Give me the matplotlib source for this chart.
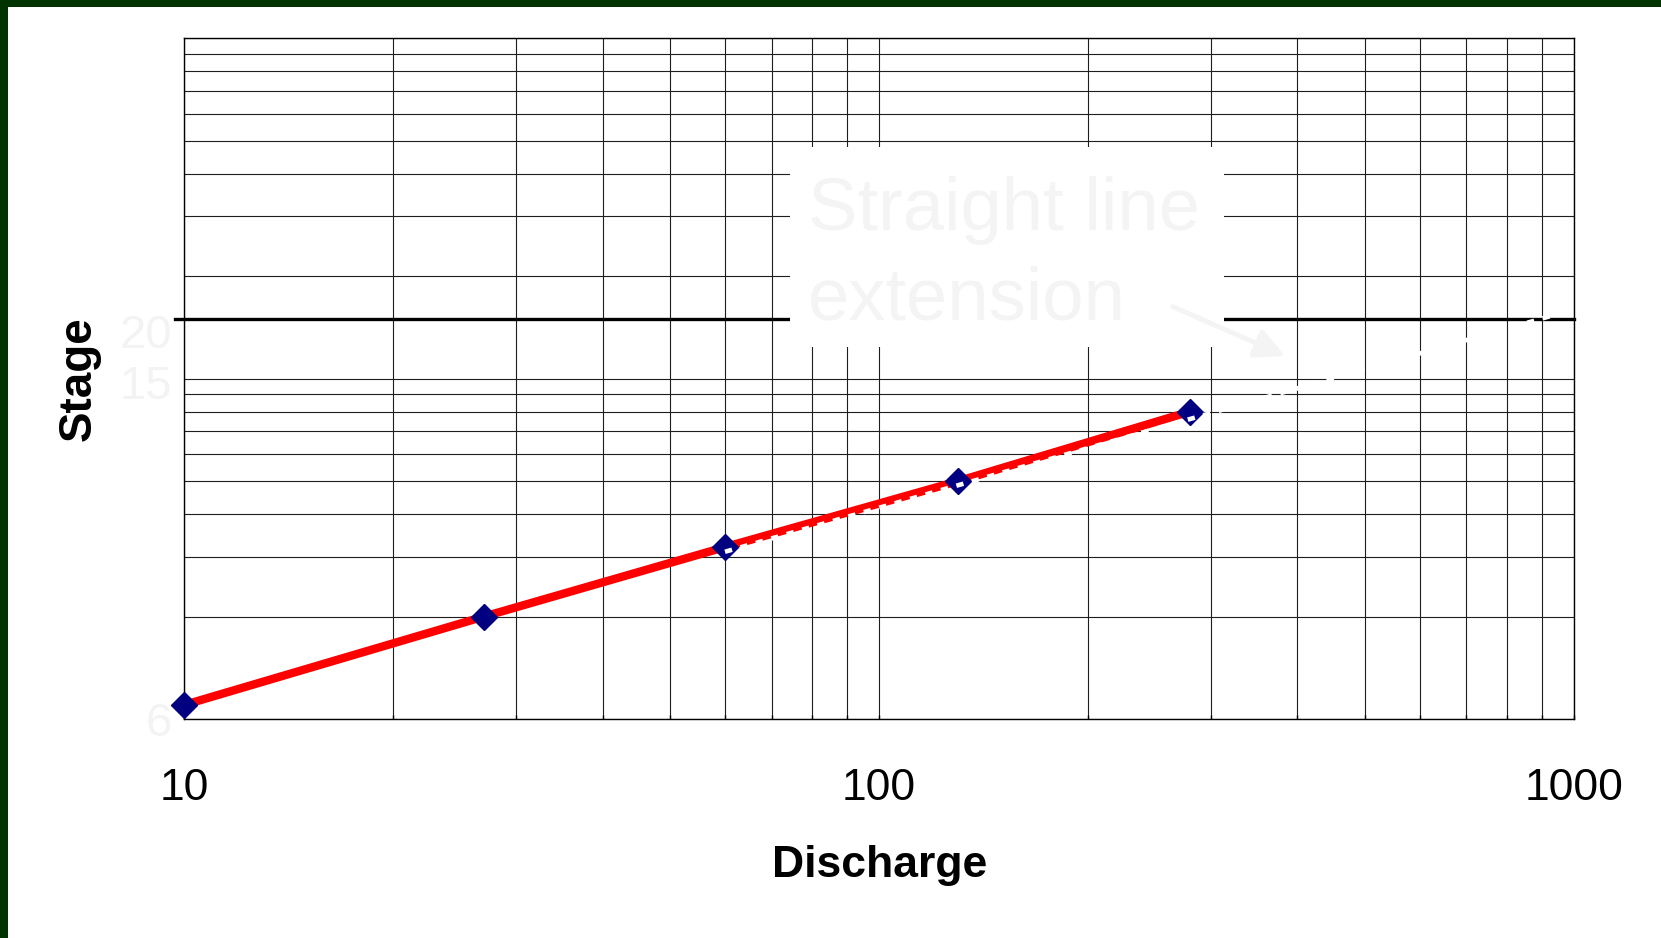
import matplotlib
matplotlib.use('Agg')
import matplotlib.pyplot as plt
from matplotlib.patches import Rectangle
from matplotlib.ticker import FixedLocator, NullFormatter, NullLocator
from matplotlib.transforms import ScaledTranslation

# ---- data ----
discharge = [10, 27, 60, 130, 280]
stage = [1.1, 2.0, 3.2, 5.0, 8.0]
ext_discharge = [60, 960]          # straight-line extension (white dotted)
ext_stage = [3.1, 15.6]
ref_stage = 15                     # heavy horizontal reference line
x_ticks = [10, 100, 1000]
x_tick_labels = ['10', '100', '1000']
x_minor = [20, 30, 40, 50, 60, 70, 80, 90, 200, 300, 400, 500, 600, 700, 800, 900]
y_tick_pos = [1, 10, 15]
y_tick_labels = ['6', '15', '20']
x_grid = [10, 20, 30, 40, 50, 60, 70, 80, 90, 100,
          200, 300, 400, 500, 600, 700, 800, 900, 1000]
y_grid = [1, 2, 3, 4, 5, 6, 7, 8, 9, 10, 20, 30, 40, 50, 60, 70, 80, 90, 100]
annotation_lines = ['Straight line', 'extension']

plt.rcParams['font.family'] = ['Liberation Sans', 'DejaVu Sans']

W, H = 1661, 938
fig = plt.figure(figsize=(W / 100, H / 100), dpi=100)
fig.patch.set_facecolor('white')

# dark green frame (top and left)
fig.add_artist(Rectangle((0, 0), 8 / W, 1, transform=fig.transFigure,
                         facecolor='#003300', edgecolor='none'))
fig.add_artist(Rectangle((0, 1 - 7 / H), 1, 7 / H, transform=fig.transFigure,
                         facecolor='#003300', edgecolor='none'))

ax = fig.add_axes([184.3 / W, (H - 719) / H, (1574 - 184.3) / W, (719 - 38.3) / H])
ax.set_xscale('log')
ax.set_yscale('log')
ax.set_xlim(10, 1000)
ax.set_ylim(1, 100)

# log-paper grid
ax.vlines(x_grid, 1, 100, colors='#1e1e1e', linewidth=0.8, zorder=1)
ax.hlines(y_grid, 10, 1000, colors='#1e1e1e', linewidth=0.8, zorder=1)

# heavy reference line
ax.axhline(ref_stage, xmin=-0.007, xmax=1, color='black', linewidth=2.4,
           clip_on=False, zorder=2)

# white annotation box
ax.add_patch(Rectangle((0.4355, 0.547), 0.3125, 0.293, transform=ax.transAxes,
                       facecolor='white', edgecolor='none', zorder=3))

# rating curve
ax.plot(discharge, stage, color='#ff0000', linewidth=6, solid_capstyle='butt', zorder=4)
ax.plot(discharge, stage, linestyle='none', marker='D', markersize=13.5,
        color='#000080', zorder=5, clip_on=False)
# straight line extension
ax.plot(ext_discharge, ext_stage, color='white', linewidth=3.3,
        linestyle=(0, (1.6, 1.9)), dash_capstyle='butt', zorder=6)

# annotation text and arrow
ax.text(0.4488, 0.7184, annotation_lines[0], transform=ax.transAxes, fontsize=53.5,
        color='#f4f4f4', ha='left', va='baseline', zorder=7)
ax.text(0.4490, 0.5862, annotation_lines[1], transform=ax.transAxes, fontsize=53.5,
        color='#f4f4f4', ha='left', va='baseline', zorder=7)
ax.annotate('', xy=(0.7921, 0.5333), xytext=(0.7114, 0.6057), xycoords='axes fraction',
            arrowprops=dict(arrowstyle='-|>,head_length=0.9,head_width=0.45',
                            mutation_scale=20, lw=3.6, color='#f4f4f4',
                            shrinkA=0, shrinkB=0), zorder=7)

# ticks
ax.set_xticks(x_ticks, x_tick_labels)
ax.xaxis.set_minor_locator(FixedLocator(x_minor))
ax.xaxis.set_minor_formatter(NullFormatter())
ax.tick_params(axis='x', which='major', labelsize=32, pad=35, direction='in',
               length=3, width=1, colors='black')
ax.tick_params(axis='x', which='minor', direction='in', length=3, width=1)

ax.set_yticks(y_tick_pos, y_tick_labels)
ax.yaxis.set_minor_locator(NullLocator())
ax.tick_params(axis='y', which='major', labelsize=34, pad=9, length=0,
               labelcolor='#f3f3f3')
offsets = [0, -3, -12]
for tk, off in zip(ax.yaxis.get_major_ticks(), offsets):
    tk.label1.set_transform(tk.label1.get_transform() +
                            ScaledTranslation(0, off / 100, fig.dpi_scale_trans))

for sp in ax.spines.values():
    sp.set_color('black')
    sp.set_linewidth(1.0)
    sp.set_zorder(2.5)

ax.set_xlabel('Discharge', fontsize=32, fontweight='bold')
ax.xaxis.set_label_coords(0.5, -0.185)
ax.set_ylabel('Stage', fontsize=33, fontweight='bold')
ax.yaxis.set_label_coords(-0.060, 0.5)

fig.savefig('out.png', dpi=100)
